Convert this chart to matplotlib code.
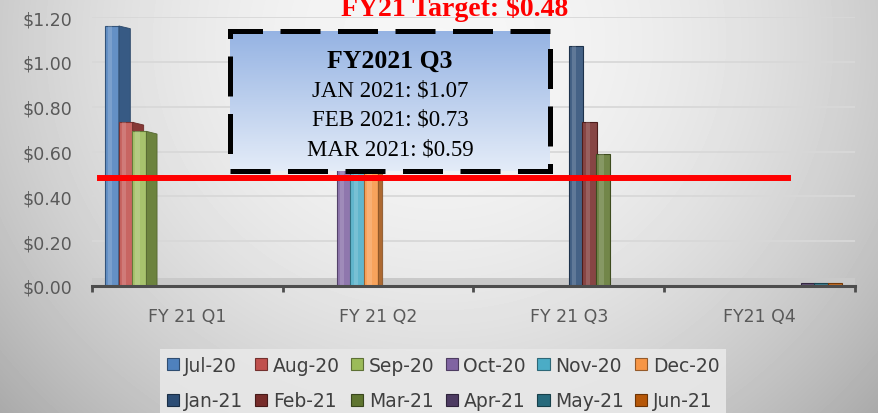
import numpy as np
import matplotlib
matplotlib.use('Agg')
import matplotlib.pyplot as plt
from matplotlib.colors import to_rgb
from matplotlib.patches import Polygon, Rectangle, Patch

# ---------------- data ----------------
categories = ['FY 21 Q1', 'FY 21 Q2', 'FY 21 Q3', 'FY21 Q4']
months = ['Jul-20', 'Aug-20', 'Sep-20', 'Oct-20', 'Nov-20', 'Dec-20',
          'Jan-21', 'Feb-21', 'Mar-21', 'Apr-21', 'May-21', 'Jun-21']
month_quarter = [0, 0, 0, 1, 1, 1, 2, 2, 2, 3, 3, 3]
month_values = [1.16, 0.73, 0.69, 0.62, 0.58, 0.60, 1.07, 0.73, 0.59, 0.0, 0.0, 0.0]
target = 0.48
yticks = [0.0, 0.2, 0.4, 0.6, 0.8, 1.0, 1.2]
box_title = 'FY2021 Q3'
box_lines = ['JAN 2021: \\$1.07', 'FEB 2021: \\$0.73', 'MAR 2021: \\$0.59']
title = 'FY21 Target: \\$0.48'
colors = ['#4F81BD', '#C0504D', '#9BBB59', '#8064A2', '#4BACC6', '#F79646',
          '#2C4D75', '#772C2A', '#5F7530', '#4D3B62', '#276A7C', '#B65708']


def blend(c, other, t):
    a = np.array(to_rgb(c)); b = np.array(to_rgb(other))
    return tuple(a * (1 - t) + b * t)


W, H = 879, 414
fig = plt.figure(figsize=(W / 100, H / 100), dpi=100)

# background gradient
bgax = fig.add_axes([0, 0, 1, 1], zorder=-10)
xx, yy = np.meshgrid(np.linspace(0, 1, W), np.linspace(0, 1, H))
r2 = ((xx - 0.5) / 0.55) ** 2 + ((yy - 0.1) / 1.1) ** 2
L = np.clip(0.965 - 0.2 * r2, 0, 1)
bgax.imshow(L, cmap='gray', vmin=0, vmax=1, aspect='auto', extent=[0, 1, 0, 1],
            interpolation='bilinear')
bgax.axis('off')

# main axes
ax = fig.add_axes([92 / W, 1 - 287 / H, (855 - 92) / W, (287 - 18) / H])
ax.set_facecolor('none')
ax.set_xlim(-0.5, 3.5)
ax.set_ylim(0, 1.2)
ax.grid(axis='y', color='#d8d8d8', lw=1.3)
ax.set_axisbelow(True)
for s in ['left', 'right', 'top']:
    ax.spines[s].set_visible(False)
ax.spines['bottom'].set_color('#4d4d4d')
ax.spines['bottom'].set_linewidth(2.2)
ax.spines['bottom'].set_zorder(6)

# floor
ax.axhspan(0, 0.035, color='#c9c9c9', lw=0, zorder=1)

w = 0.074
n = len(months)
for j, (m, q, v, c) in enumerate(zip(months, month_quarter, month_values, colors)):
    x = q + (j - (n - 1) / 2) * 0.072
    z = 3 + j * 0.03
    front = blend(c, 'white', 0.12)
    edge = blend(c, 'black', 0.35)
    h = v if v > 0 else 0.012
    ax.bar(x, h, width=w, color=front, edgecolor=edge, lw=0.8, zorder=z)
    if v > 0:
        ax.bar(x - w * 0.12, v, width=w * 0.3, color='white', alpha=0.15, lw=0,
               zorder=z + 0.005)
        d = max(0.0, 0.06 * (1.8 - x) / 2.2)
        if d > 0:
            x1 = x + w / 2
            side = Polygon([(x1, 0), (x1, v), (x1 + d, v - 0.012), (x1 + d, 0)],
                           closed=True, facecolor=blend(c, 'black', 0.3),
                           edgecolor=blend(c, 'black', 0.45), lw=0.6, zorder=z + 0.01)
            ax.add_patch(side)

# target line
ax.axhline(target, xmin=8 / 763, xmax=696 / 763, color='#FF0000', lw=4.3, zorder=10)

# ticks
ax.set_xticks([-0.5, 0.5, 1.5, 2.5, 3.5])
ax.set_xticklabels([])
ax.tick_params(axis='x', which='major', length=4, width=2, color='#4d4d4d', direction='out')
ax.set_xticks(range(len(categories)), minor=True)
ax.set_xticklabels(categories, minor=True)
ax.tick_params(axis='x', which='minor', length=0, pad=15, labelsize=12.5, labelcolor='#595959')
ax.set_yticks(yticks)
ax.set_yticklabels(['\\$%.2f' % t for t in yticks])
ax.tick_params(axis='y', length=0, pad=14, labelsize=12.5, labelcolor='#595959')

# title
fig.text(455 / W, 1 - 16 / H, title, ha='center', va='baseline', color='#FF0000',
         fontsize=20, fontweight='bold', family='Liberation Serif')

# annotation box
bx = fig.add_axes([230 / W, 1 - 172 / H, 320 / W, 140 / H], zorder=5)
grad = np.linspace(0, 1, 200)[:, None]
top_c = np.array(to_rgb('#95B3E3')); bot_c = np.array(to_rgb('#E4ECF8'))
img = top_c[None, None, :] * (1 - grad[:, :, None]) + bot_c[None, None, :] * grad[:, :, None]
bx.imshow(img, aspect='auto', extent=[0, 1, 0, 1])
bx.set_xlim(0, 1); bx.set_ylim(0, 1)
bx.axis('off')
bx.add_patch(Rectangle((0, 0), 1, 1, transform=bx.transAxes, fill=False, ec='black',
                       lw=3.6, linestyle=(0, (8, 3.5)), clip_on=False, zorder=3))
bx.text(0.5, 0.743, box_title, transform=bx.transAxes, ha='center', va='baseline',
        fontsize=18.5, fontweight='bold', family='Liberation Serif', color='black')
for i, (line, yb) in enumerate(zip(box_lines, [0.536, 0.329, 0.121])):
    bx.text(0.5, yb, line, transform=bx.transAxes, ha='center', va='baseline',
            fontsize=16.5, family='Liberation Serif', color='black')

# legend (row-major order as in reference)
handles = [Patch(facecolor=c, edgecolor=blend(c, 'black', 0.4), lw=0.8) for c in colors]
order = []
for col in range(6):
    order += [col, col + 6]
leg = fig.legend([handles[i] for i in order], [months[i] for i in order], ncol=6,
                 loc='upper left', bbox_to_anchor=(160 / W, 1 - 350 / H), frameon=True,
                 facecolor='#e8e8e8', edgecolor='none', framealpha=0.9, fancybox=False,
                 fontsize=13.5, handlelength=0.65, handleheight=0.65, handletextpad=0.3,
                 columnspacing=0.6, labelspacing=0.9, borderpad=0.35, borderaxespad=0,
                 labelcolor='#404040')

fig.savefig('out.png', dpi=100)
